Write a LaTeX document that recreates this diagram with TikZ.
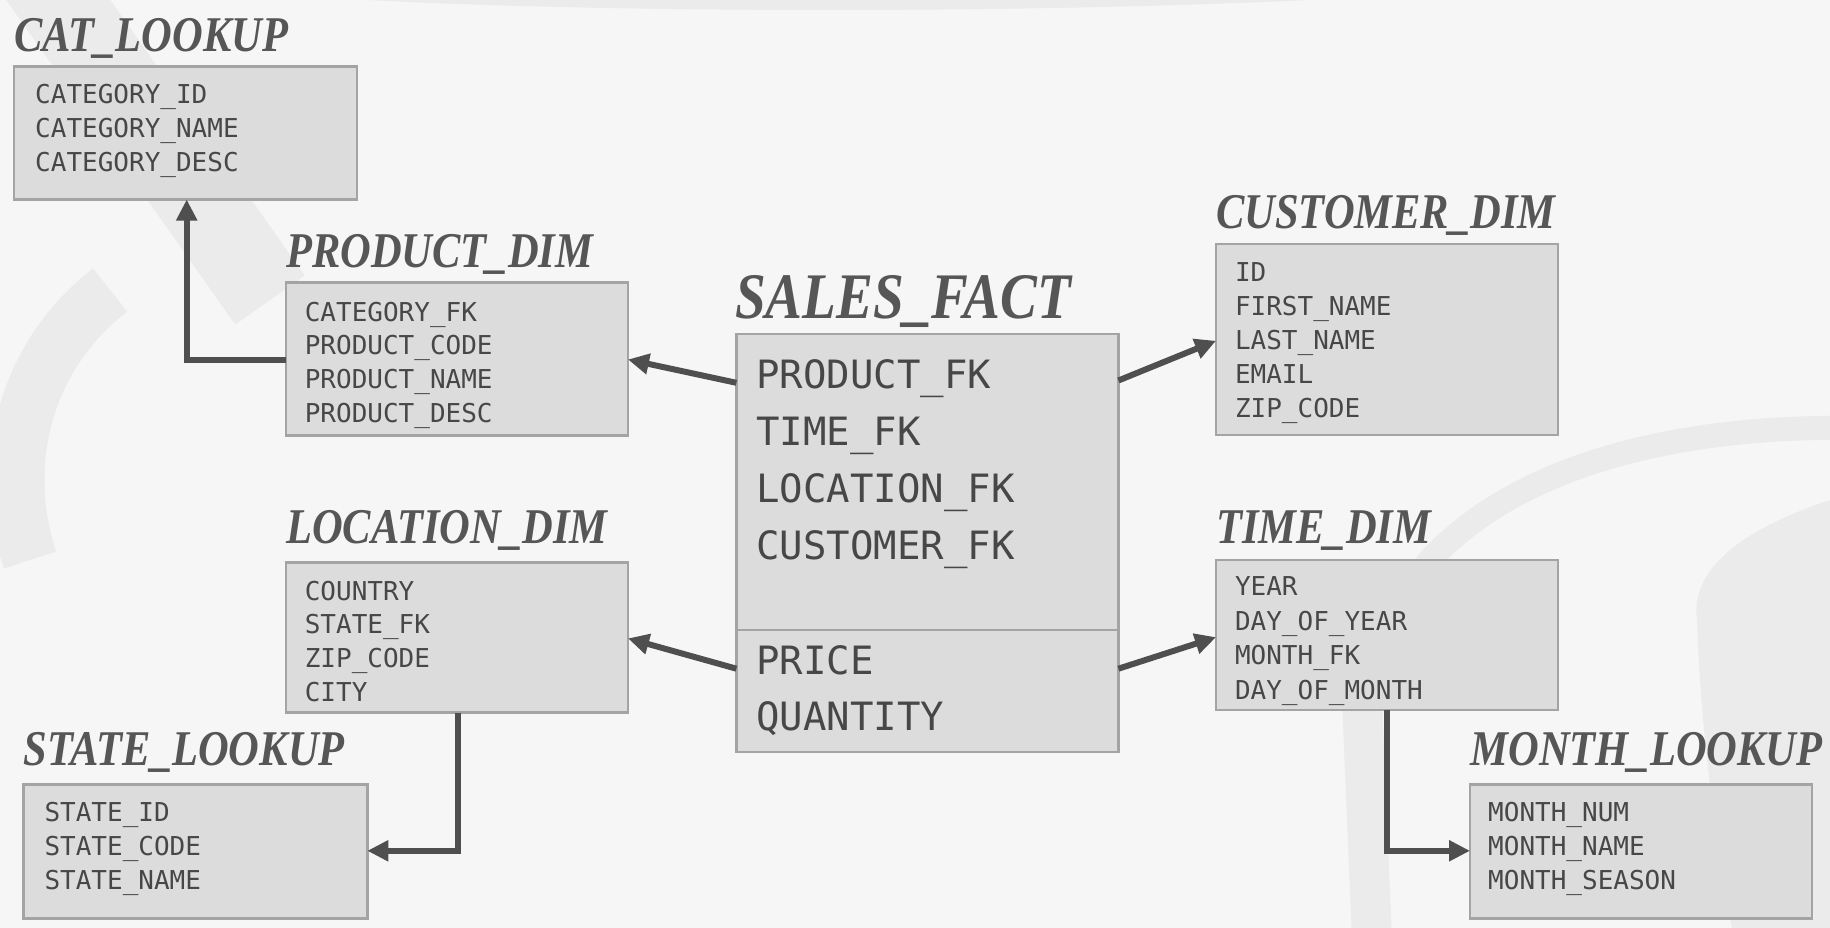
\documentclass[tikz,border=0pt]{standalone}
\usepackage{fontspec}
\setmonofont{DejaVu Sans Mono}
\newfontfamily\ttlfont[FakeStretch=0.85]{Liberation Serif}
\usetikzlibrary{arrows.meta}
\definecolor{bgc}{HTML}{F6F6F6}
\definecolor{wmc}{HTML}{EBEBEB}
\definecolor{boxfill}{HTML}{DCDCDC}
\definecolor{boxline}{HTML}{A4A4A4}
\definecolor{txtc}{HTML}{474747}
\definecolor{ttlc}{HTML}{565656}
\definecolor{arrc}{HTML}{4F4F4F}
\begin{document}
\begin{tikzpicture}[x=1pt,y=-1pt,
  tbox/.style={draw=boxline, line width=2.5pt, fill=boxfill, anchor=north west, inner sep=0pt, outer sep=0pt},
  fld/.style={font=\ttfamily\fontsize{26}{30}\selectfont, text=txtc, anchor=base west, inner sep=0pt},
  bigfld/.style={font=\ttfamily\fontsize{39}{44}\selectfont, text=txtc, anchor=base west, inner sep=0pt},
  ttl/.style={font=\ttlfont\bfseries\itshape\fontsize{50}{56}\selectfont, text=ttlc, anchor=base west, inner sep=0pt},
  bigttl/.style={font=\ttlfont\bfseries\itshape\fontsize{65}{70}\selectfont, text=ttlc, anchor=base west, inner sep=0pt},
  arr/.style={draw=arrc, line width=6pt, -{Triangle[length=21pt,width=20pt]}},
  wm/.style={draw=wmc}
]
\useasboundingbox (0,0) rectangle (1830,928);
\fill[bgc] (0,0) rectangle (1830,928);
% faint watermark
\fill[wmc] (330,-2) .. controls (600,14) and (1050,14) .. (1350,-2) -- cycle;
\draw[wm, line width=85pt] (30,-40) -- (270,300);
\draw[wm, line width=55pt] (110,290) .. controls (20,360) and (0,470) .. (30,560);
\draw[wm, line width=24pt] (1362,700) .. controls (1400,480) and (1650,425) .. (1850,428);
\fill[wmc] (1830,500) .. controls (1740,530) and (1690,570) .. (1697,620)
   .. controls (1700,720) and (1715,840) .. (1732,928) -- (1830,928) -- cycle;
\draw[wm, line width=40pt] (1362,700) -- (1372,940);

% boxes
\node[tbox, minimum width=343pt, minimum height=133pt] (cat) at (14,66.5) {};
\node[tbox, minimum width=342pt, minimum height=153pt] (prod) at (286,282.4) {};
\node[tbox, minimum width=382pt, minimum height=418pt] (sales) at (736.4,333.8) {};
\node[tbox, minimum width=342pt, minimum height=191pt] (cust) at (1216,244) {};
\node[tbox, minimum width=342pt, minimum height=150pt] (loc) at (286,562.5) {};
\node[tbox, minimum width=342pt, minimum height=150pt] (time) at (1216,560.2) {};
\node[tbox, minimum width=344pt, minimum height=134pt] (state) at (23.3,784.3) {};
\node[tbox, minimum width=342pt, minimum height=134pt] (month) at (1470,784.3) {};
\draw[draw=boxline, line width=2.5pt] (sales.west |- 0,630.2) coordinate (divl) -- (sales.east |- 0,630.2) coordinate (divr);

% titles
\node[ttl] (catT) at (14,51.4) {CAT\_LOOKUP};
\node[ttl] (prodT) at (286,267) {PRODUCT\_DIM};
\node[bigttl] (salesT) at (735,318.6) {SALES\_FACT};
\node[ttl] (custT) at (1216,228.7) {CUSTOMER\_DIM};
\node[ttl] (locT) at (286,543.9) {LOCATION\_DIM};
\node[ttl] (timeT) at (1216,543.9) {TIME\_DIM};
\node[ttl] (stateT) at (23.3,765.6) {STATE\_LOOKUP};
\node[ttl] (monthT) at (1470.5,765.6) {MONTH\_LOOKUP};

% fields
\foreach \t [count=\i] in {CATEGORY\_ID,CATEGORY\_NAME,CATEGORY\_DESC}
  \node[fld] (catf\i) at (35,{104+(\i-1)*33.8}) {\t};
\foreach \t [count=\i] in {CATEGORY\_FK,PRODUCT\_CODE,PRODUCT\_NAME,PRODUCT\_DESC}
  \node[fld] (prodf\i) at (304.6,{321.1+(\i-1)*33.8}) {\t};
\foreach \t [count=\i] in {ID,FIRST\_NAME,LAST\_NAME,EMAIL,ZIP\_CODE}
  \node[fld] (custf\i) at (1234.8,{281.5+(\i-1)*34.1}) {\t};
\foreach \t [count=\i] in {COUNTRY,STATE\_FK,ZIP\_CODE,CITY}
  \node[fld] (locf\i) at (304.6,{600.1+(\i-1)*33.8}) {\t};
\foreach \t [count=\i] in {YEAR,DAY\_OF\_YEAR,MONTH\_FK,DAY\_OF\_MONTH}
  \node[fld] (timef\i) at (1234.8,{595.4+(\i-1)*34.6}) {\t};
\foreach \t [count=\i] in {STATE\_ID,STATE\_CODE,STATE\_NAME}
  \node[fld] (statef\i) at (44.3,{821.8+(\i-1)*33.8}) {\t};
\foreach \t [count=\i] in {MONTH\_NUM,MONTH\_NAME,MONTH\_SEASON}
  \node[fld] (monthf\i) at (1488,{821.8+(\i-1)*33.8}) {\t};
\foreach \t [count=\i] in {PRODUCT\_FK,TIME\_FK,LOCATION\_FK,CUSTOMER\_FK}
  \node[bigfld] (salesf\i) at (756.3,{388.8+(\i-1)*57}) {\t};
\node[bigfld] (salesf5) at (756.3,674.8) {PRICE};
\node[bigfld] (salesf6) at (756.3,730.8) {QUANTITY};

% connectors
\draw[arr] (sales.west |- 0,382.8) -- (prod.east |- 0,359.5);
\draw[arr] (sales.west |- 0,668.7) -- (loc.east |- 0,638.4);
\draw[arr] (sales.east |- 0,380.5) -- (cust.west |- 0,340.8);
\draw[arr] (sales.east |- 0,668.7) -- (time.west |- 0,637.2);
\draw[arr] (prod.west |- 0,359.5) -| (cat.south -| 186.7,0);
\draw[arr] (loc.south -| 457.5,0) |- (state.east |- 0,850.8);
\draw[arr] (time.south -| 1386.5,0) |- (month.west |- 0,850.8);
\end{tikzpicture}
\end{document}
